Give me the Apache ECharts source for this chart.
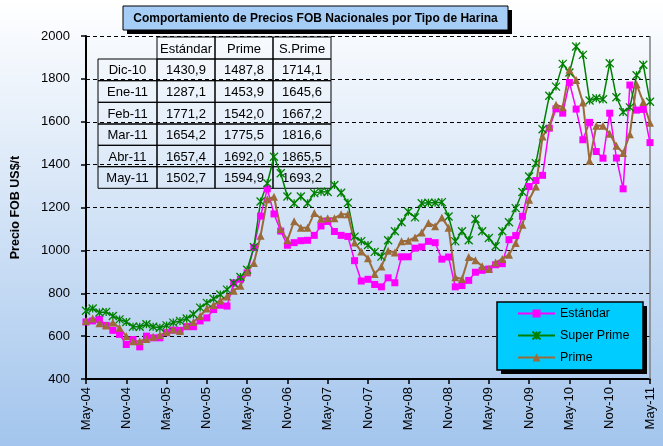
<!DOCTYPE html>
<html><head><meta charset="utf-8">
<script src="https://cdn.jsdelivr.net/npm/echarts@6/dist/echarts.min.js"></script>
<style>html,body{margin:0;padding:0;background:#fff}#c{width:663px;height:446px;}</style>
</head><body><div id="c"></div>
<script>
// ---------- DATA ----------
const monthNames = ['Ene','Feb','Mar','Abr','May','Jun','Jul','Ago','Sep','Oct','Nov','Dic'];
const categories = [];
for (let k = 0; k < 85; k++) {
  const m = (4 + k) % 12, y = 4 + Math.floor((4 + k) / 12);
  categories.push(monthNames[m] + '-' + String(y).padStart(2, '0'));
}
const estandar = [666,671,678,650,627,608,561,584,550,600,592,592,616,628,627,644,644,671,685,724,
  744,740,848,865,895,1014,1160,1287,1170,1090,1024,1036,1045,1047,1070,1114,1135,1088,1070,1065,
  952,857,865,841,830,872,849,970,970,1010,1016,1042,1036,959,969,830,836,860,898,907,
  913,933,938,1050,1069,1159,1298,1326,1350,1570,1660,1640,1783,1659,1516,1597,1461,1430,1640,
  1430.9,1287.1,1771.2,1654.2,1657.4,1502.7];
const superPrime = [718,729,710,713,694,678,666,644,644,655,644,639,650,663,671,682,702,733,755,774,
  794,817,848,876,910,1015,1228,1313,1437,1360,1251,1220,1251,1220,1267,1274,1272,1305,1269,1222,
  1064,1043,1025,993,971,1047,1089,1131,1180,1154,1220,1222,1222,1225,1158,1042,1089,1047,1146,1089,
  1058,1019,1089,1131,1197,1272,1345,1407,1565,1721,1764,1870,1830,1951,1912,1699,1710,1705,1873,
  1714.1,1645.6,1667.2,1816.6,1865.5,1693.2];
const prime = [671,682,660,650,663,639,600,576,576,587,597,605,619,631,624,650,666,694,729,745,
  766,785,812,835,900,941,1068,1238,1250,1100,1047,1136,1105,1105,1174,1148,1150,1150,1168,1168,
  1037,995,963,890,925,998,990,1043,1045,1060,1083,1128,1112,1153,1106,875,867,969,954,926,
  913,944,960,980,1034,1120,1236,1298,1531,1578,1679,1668,1842,1795,1690,1418,1581,1581,1544,
  1487.8,1453.9,1542.0,1775.5,1692.0,1594.9];
const yTicks = {min: 400, max: 2000, step: 200};
const tableMonths = ['Dic-10','Ene-11','Feb-11','Mar-11','Abr-11','May-11'];
const tableHeaders = ['Estándar','Prime','S.Prime'];
const seriesNames = ['Estándar','Super Prime','Prime'];
const titleText = 'Comportamiento de Precios FOB Nacionales por Tipo de Harina';
const yName = 'Precio FOB US$/t';

const FF = '"Liberation Sans", Arial';

// ---------- TABLE (graphic) ----------
const fmt = v => v.toFixed(1).replace('.', ',');
const tStd = estandar.slice(-6), tPr = prime.slice(-6), tSP = superPrime.slice(-6);
const colX = [98, 157, 215, 273, 331];
const rowY = [37, 59, 80.7, 102.3, 124, 145.3, 166.7, 188.3];
const g = [];
function cell(x0,x1,y0,y1,txt){
  g.push({type:'rect', z:1, shape:{x:x0,y:y0,width:x1-x0,height:y1-y0},
    style:{fill:'rgba(0,0,0,0)', stroke:'#000', lineWidth:1}});
  g.push({type:'text', z:1, x:(x0+x1)/2, y:(y0+y1)/2+1,
    style:{text:txt, fill:'#000', font:'13px '+FF, align:'center', verticalAlign:'middle'}});
}
for (let c = 0; c < 3; c++) cell(colX[c+1], colX[c+2], rowY[0], rowY[1], tableHeaders[c]);
for (let r = 0; r < 6; r++) {
  const vals = [tableMonths[r], fmt(tStd[r]), fmt(tPr[r]), fmt(tSP[r])];
  for (let c = 0; c < 4; c++) cell(colX[c], colX[c+1], rowY[r+1], rowY[r+2], vals[c]);
}
// title box with shadow
g.push({type:'rect', z:20, shape:{x:127,y:10,width:385,height:24}, style:{fill:'#000'}});
g.push({type:'rect', z:21, shape:{x:123,y:6,width:385,height:24}, style:{fill:'#a6cdf5', stroke:'#000', lineWidth:1}});
g.push({type:'text', z:22, x:315.5, y:18.5, style:{text:titleText, fill:'#000', font:'bold 12px '+FF, align:'center', verticalAlign:'middle'}});
// legend box with shadow
g.push({type:'rect', z:20, shape:{x:501,y:306,width:146,height:68}, style:{fill:'#000'}});
g.push({type:'rect', z:21, shape:{x:497,y:302,width:146,height:68}, style:{fill:'#00ccff', stroke:'#000', lineWidth:1.5}});
// plot right border
g.push({type:'line', z:1, shape:{x1:650,y1:36,x2:650,y2:379}, style:{stroke:'#7f7f7f', lineWidth:1.5}});

const chart = echarts.init(document.getElementById('c'), null, {renderer:'canvas'});
chart.setOption({
  animation:false,
  backgroundColor:{type:'linear',x:0,y:0,x2:0,y2:1,colorStops:[{offset:0,color:'#ffffff'},{offset:1,color:'#a3c5ed'}]},
  textStyle:{fontFamily:FF},
  grid:{left:86, right:13, top:36, bottom:67},
  graphic:g,
  legend:{
    data:seriesNames, orient:'vertical', left:517, top:307, itemWidth:37, itemHeight:10, itemGap:9,
    textStyle:{fontSize:12.5, fontFamily:FF, color:'#000'}, z:30, padding:0
  },
  xAxis:{
    type:'category', data:categories, boundaryGap:false,
    axisLine:{lineStyle:{color:'#000', width:2}},
    axisTick:{interval:5, length:5, lineStyle:{color:'#000', width:1.5}},
    axisLabel:{interval:5, rotate:90, margin:8, color:'#000', fontSize:13, fontFamily:FF},
    splitLine:{show:false}
  },
  yAxis:{
    type:'value', min:yTicks.min, max:yTicks.max, interval:yTicks.step,
    name:yName, nameLocation:'middle', nameGap:64, nameRotate:90,
    nameTextStyle:{fontWeight:'bold', fontSize:12.5, fontFamily:FF, color:'#000'},
    axisLine:{show:true, lineStyle:{color:'#000', width:2}},
    axisTick:{show:true, length:5, lineStyle:{color:'#000', width:1.5}},
    axisLabel:{margin:16, color:'#000', fontSize:13, fontFamily:FF, formatter:v => String(v)},
    splitLine:{show:true, lineStyle:{color:'#000', type:[4,3], width:1}}
  },
  series:[
    {name:seriesNames[0], type:'line', data:estandar, z:3, color:'#ff00ff',
     symbol:'rect', symbolSize:7, showAllSymbol:true,
     lineStyle:{color:'#ff00ff', width:1.5}, itemStyle:{color:'#ff00ff'}},
    {name:seriesNames[1], type:'line', data:superPrime, z:3, color:'#008000',
     symbol:'path://M0,0L10,10M10,0L0,10M5,0L5,10', symbolSize:8, showAllSymbol:true,
     lineStyle:{color:'#008000', width:1.5}, itemStyle:{color:'#008000', borderColor:'#008000', borderWidth:1.3}},
    {name:seriesNames[2], type:'line', data:prime, z:3, color:'#9c6b3a',
     symbol:'triangle', symbolSize:8, showAllSymbol:true,
     lineStyle:{color:'#9c6b3a', width:2}, itemStyle:{color:'#9c6b3a'}}
  ]
});
</script></body></html>
